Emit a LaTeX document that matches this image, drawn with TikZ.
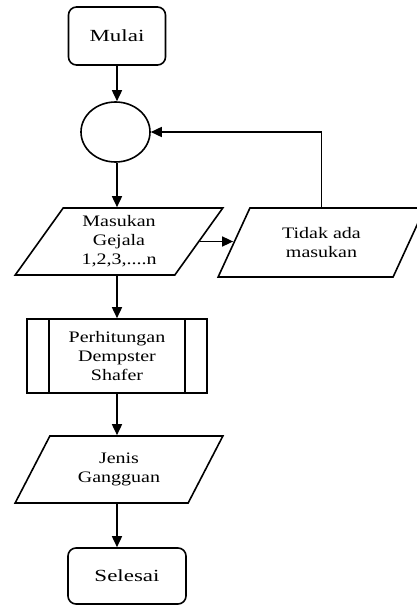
\documentclass[tikz,border=0pt]{standalone}
\usepackage{fontspec}
\setmainfont{Liberation Serif}[FakeStretch=1.25]
\newfontfamily\bigfont{Liberation Serif}[FakeStretch=1.35]
\usetikzlibrary{shapes.geometric,arrows.meta}
\begin{document}
\begin{tikzpicture}[x=1pt,y=-1pt,
  line width=1.6pt,
  term/.style={draw,rectangle,rounded corners=8pt,inner sep=0pt,font=\bigfont\fontsize{17}{20}\selectfont},
  io/.style={draw,trapezium,trapezium left angle=58,trapezium right angle=122,trapezium stretches=true,inner sep=0pt,align=center,font=\fontsize{16}{19}\selectfont},
  proc/.style={draw,rectangle,inner sep=0pt,align=center,font=\fontsize{16}{19}\selectfont},
  conn/.style={draw,ellipse,inner sep=0pt},
  arr/.style={-{Triangle[length=11pt,width=10pt]}}]
\useasboundingbox (0,0) rectangle (417,605);
\node[term,minimum width=97pt,minimum height=58pt] (mulai) at (117,36) {Mulai};
\node[conn,minimum width=69pt,minimum height=60pt] (circ) at (115.5,132) {};
\node[io,minimum width=208pt,minimum height=67pt] (masuk) at (119,241.5) {Masukan\\Gejala\\1,2,3,....n};
\node[io,trapezium left angle=60,trapezium right angle=120,minimum width=207pt,minimum height=69pt] (tidak) at (321.5,242.5) {Tidak ada\\masukan};
\node[proc,minimum width=180pt,minimum height=74pt] (hitung) at (117,356) {Perhitungan\\Dempster\\Shafer};
\draw ([xshift=23pt]hitung.north west) -- ([xshift=23pt]hitung.south west);
\draw ([xshift=-23pt]hitung.north east) -- ([xshift=-23pt]hitung.south east);
\node[io,minimum width=208pt,minimum height=67pt] (jenis) at (119,469.5) {Jenis\\Gangguan};
\node[term,minimum width=118pt,minimum height=56pt] (selesai) at (127,576) {Selesai};
\draw[arr] (mulai.south) -- (mulai.south |- circ.north);
\draw[arr] (mulai.south |- circ.south) -- (mulai.south |- masuk.north);
\draw[arr] (hitung.north |- masuk.south) -- (hitung.north);
\draw[arr] (hitung.south) -- (hitung.south |- jenis.north);
\draw[arr] (hitung.south |- jenis.south) -- (hitung.south |- selesai.north);
\draw[arr] (masuk.east) -- (masuk.east -| tidak.west);
\draw[arr] (tidak.center |- tidak.north) |- (circ.east);
\end{tikzpicture}
\end{document}
